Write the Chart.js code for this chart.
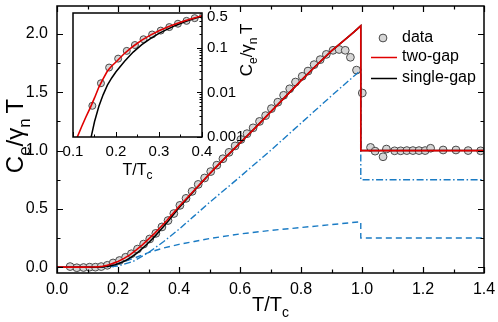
<!DOCTYPE html>
<html>
<head>
<meta charset="utf-8">
<script src="https://cdn.jsdelivr.net/npm/chart.js@4.4.1/dist/chart.umd.min.js"></script>
<style>
  html, body { margin: 0; padding: 0; background: #fff; }
  #wrap { position: relative; width: 498px; height: 322px; }
  #mainChart { position: absolute; left: 0; top: 0; }
  #insetChart { position: absolute; left: 60px; top: 0; }
</style>
</head>
<body>
<div id="wrap">
  <canvas id="mainChart" width="498" height="322"></canvas>
  <canvas id="insetChart" width="205" height="185"></canvas>
</div>
<script>
// measured specific heat, T/Tc vs Ce/(gamma_n T)
var dataT = [0.043, 0.065, 0.087, 0.107, 0.126, 0.145, 0.165, 0.184, 0.205, 0.225, 0.244, 0.264, 0.284, 0.304, 0.324, 0.344,
  0.364, 0.383, 0.403, 0.423, 0.443, 0.463, 0.484, 0.504, 0.524, 0.544, 0.564, 0.584, 0.603, 0.623, 0.643, 0.664,
  0.684, 0.703, 0.724, 0.743, 0.763, 0.782, 0.804, 0.823, 0.843, 0.863, 0.883, 0.905, 0.925, 0.945, 0.962, 0.982,
  1.001, 1.028, 1.043, 1.069, 1.08, 1.107, 1.127, 1.147, 1.167, 1.187, 1.207, 1.225, 1.266, 1.308, 1.348, 1.389];
var dataC = [0.005, -0.005, -0.003, 0, 0, 0.005, 0.016, 0.036, 0.057, 0.085, 0.115, 0.155, 0.198, 0.242, 0.29, 0.345,
  0.40, 0.46, 0.53, 0.59, 0.65, 0.71, 0.765, 0.82, 0.875, 0.93, 0.985, 1.04, 1.095, 1.145, 1.195, 1.25,
  1.30, 1.36, 1.415, 1.474, 1.53, 1.588, 1.637, 1.682, 1.737, 1.78, 1.825, 1.86, 1.867, 1.86, 1.80, 1.69,
  1.494, 1.027, 0.995, 0.947, 1.013, 0.998, 0.998, 1.0, 1.0, 1.0, 1.0, 1.02, 1.005, 1.005, 1.0, 0.998];

// two-gap fit
var twoGapT = [0, 0.10, 0.11, 0.12, 0.13, 0.14, 0.15, 0.16, 0.17, 0.18, 0.19, 0.20, 0.22, 0.24, 0.26, 0.28, 0.30, 0.32,
  0.34, 0.36, 0.38, 0.40, 0.45, 0.50, 0.55, 0.60, 0.65, 0.70, 0.75, 0.80, 0.85, 0.90, 0.95, 0.975, 0.996, 0.996, 1.4];
var twoGap = [0, 0.0006, 0.001, 0.0017, 0.0028, 0.0045, 0.0075, 0.013, 0.02, 0.03, 0.039, 0.048, 0.075, 0.108, 0.148, 0.192, 0.24, 0.29,
  0.345, 0.4, 0.46, 0.52, 0.66, 0.80, 0.935, 1.065, 1.195, 1.33, 1.465, 1.6, 1.73, 1.855, 1.965, 2.02, 2.07, 1.0, 1.0];

// single-gap fit
var singleT = [0, 0.13, 0.14, 0.15, 0.16, 0.17, 0.18, 0.19, 0.20, 0.22, 0.24, 0.26, 0.28, 0.30, 0.32, 0.34, 0.36,
  0.38, 0.40, 0.45, 0.50, 0.55, 0.60, 0.65, 0.70, 0.75, 0.80, 0.85, 0.90, 0.95, 0.975, 0.996, 0.996, 1.4];
var singleGap = [0, 0.0002, 0.0008, 0.0022, 0.0048, 0.0088, 0.0145, 0.021, 0.029, 0.05, 0.08, 0.117, 0.16, 0.21, 0.262, 0.32, 0.38,
  0.445, 0.51, 0.655, 0.80, 0.935, 1.065, 1.195, 1.33, 1.465, 1.6, 1.73, 1.855, 1.965, 2.02, 2.07, 1.0, 1.0];

// the two band contributions of the two-gap fit
var bandT = [0, 0.15, 0.20, 0.25, 0.30, 0.35, 0.40, 0.45, 0.50, 0.60, 0.70, 0.80, 0.90, 0.996, 0.996, 1.4];
var bandLarge = [0, 0, 0.01, 0.05, 0.125, 0.22, 0.325, 0.44, 0.555, 0.775, 1.0, 1.235, 1.47, 1.69, 0.75, 0.75];
var bandSmall = [0, 0.005, 0.03, 0.075, 0.125, 0.165, 0.195, 0.22, 0.245, 0.285, 0.315, 0.34, 0.365, 0.39, 0.25, 0.25];

var xTicks = [0, 0.2, 0.4, 0.6, 0.8, 1.0, 1.2, 1.4];
var yTicks = [0, 0.5, 1.0, 1.5, 2.0];
var insetXTicks = [0.1, 0.2, 0.3, 0.4];
var insetYTicks = [0.001, 0.01, 0.1, 0.5];

var FONT = '"Liberation Sans", Arial, sans-serif';
var RED = '#e00000', BLUE = '#1a7bc4', PT_FILL = '#d6d6d6', PT_EDGE = '#4a4a4a';

function pts(xs, ys, keep) {
  var out = [];
  for (var i = 0; i < xs.length; i++) {
    if (!keep || keep(xs[i], ys[i])) out.push({ x: xs[i], y: ys[i] });
  }
  return out;
}

// text with subscripts: parts = [[text, isSub], ...]
function subText(ctx, parts, x, y, size) {
  var small = Math.round(size * 0.72), w = 0;
  parts.forEach(function (p) { ctx.font = (p[1] ? small : size) + 'px ' + FONT; w += ctx.measureText(p[0]).width; });
  var cx = x - w / 2;
  parts.forEach(function (p) {
    ctx.font = (p[1] ? small : size) + 'px ' + FONT;
    ctx.fillText(p[0], cx, p[1] ? y + size * 0.28 : y);
    cx += ctx.measureText(p[0]).width;
  });
}

function tickMarks(chart, xs, ys, len, sides) {
  var a = chart.chartArea, ctx = chart.ctx, sx = chart.scales.x, sy = chart.scales.y;
  ctx.beginPath();
  xs.forEach(function (v) {
    var p = Math.round(sx.getPixelForValue(v)) + 0.5;
    if (sides.indexOf('b') >= 0) { ctx.moveTo(p, a.bottom); ctx.lineTo(p, a.bottom - len); }
    if (sides.indexOf('t') >= 0) { ctx.moveTo(p, a.top); ctx.lineTo(p, a.top + len); }
  });
  ys.forEach(function (v) {
    var p = Math.round(sy.getPixelForValue(v)) + 0.5;
    if (sides.indexOf('l') >= 0) { ctx.moveTo(a.left, p); ctx.lineTo(a.left + len, p); }
    if (sides.indexOf('r') >= 0) { ctx.moveTo(a.right, p); ctx.lineTo(a.right - len, p); }
  });
  ctx.stroke();
}

var yTitle = [['C', false], ['e', true], ['/', false], ['\u03b3', false], ['n', true], ['\u2009T', false]];
var xTitle = [['T/T', false], ['c', true]];

var mainDecor = {
  id: 'mainDecor',
  afterDraw: function (chart) {
    var ctx = chart.ctx, a = chart.chartArea;
    ctx.save();
    ctx.strokeStyle = '#000';
    ctx.lineWidth = 1.5;
    ctx.strokeRect(a.left, a.top, a.right - a.left, a.bottom - a.top);
    ctx.lineWidth = 1.2;
    tickMarks(chart, xTicks, yTicks, 6, 'btlr');
    tickMarks(chart, [0.1, 0.3, 0.5, 0.7, 0.9, 1.1, 1.3], [0.25, 0.75, 1.25, 1.75], 3.5, 'btlr');

    ctx.fillStyle = '#000';
    ctx.textBaseline = 'alphabetic';
    subText(ctx, xTitle, (a.left + a.right) / 2, 311, 20);
    ctx.save();
    ctx.translate(23, 136);
    ctx.rotate(-Math.PI / 2);
    subText(ctx, yTitle, 0, 0, 24);
    ctx.restore();

    // legend
    ctx.beginPath();
    ctx.arc(383, 38, 3.9, 0, Math.PI * 2);
    ctx.fillStyle = PT_FILL; ctx.fill();
    ctx.lineWidth = 1; ctx.strokeStyle = PT_EDGE; ctx.stroke();
    ctx.lineWidth = 1.5;
    ctx.strokeStyle = RED;
    ctx.beginPath(); ctx.moveTo(371, 57.5); ctx.lineTo(397, 57.5); ctx.stroke();
    ctx.strokeStyle = '#000';
    ctx.beginPath(); ctx.moveTo(371, 78.5); ctx.lineTo(397, 78.5); ctx.stroke();
    ctx.fillStyle = '#000';
    ctx.font = '16px ' + FONT;
    ctx.textBaseline = 'middle';
    ctx.fillText('data', 402, 38);
    ctx.fillText('two-gap', 402, 57);
    ctx.fillText('single-gap', 402, 78);
    ctx.restore();
  }
};

var insetDecor = {
  id: 'insetDecor',
  beforeDraw: function (chart) {
    var a = chart.chartArea;
    chart.ctx.save();
    chart.ctx.fillStyle = '#fff';
    chart.ctx.fillRect(a.left, a.top, a.right - a.left, a.bottom - a.top);
    chart.ctx.restore();
  },
  afterDraw: function (chart) {
    var ctx = chart.ctx, a = chart.chartArea;
    ctx.save();
    ctx.strokeStyle = '#000';
    ctx.lineWidth = 1.5;
    ctx.strokeRect(a.left, a.top, a.right - a.left, a.bottom - a.top);
    ctx.lineWidth = 1;
    tickMarks(chart, insetXTicks, [0.001, 0.01, 0.1], 5, 'br');
    tickMarks(chart, [0.15, 0.25, 0.35], [0.002, 0.003, 0.004, 0.005, 0.006, 0.007, 0.008, 0.009,
      0.02, 0.03, 0.04, 0.05, 0.06, 0.07, 0.08, 0.09, 0.2, 0.3, 0.4, 0.5], 2.5, 'br');
    ctx.fillStyle = '#000';
    ctx.textBaseline = 'alphabetic';
    subText(ctx, xTitle, (a.left + a.right) / 2, 175, 16);
    ctx.save();
    ctx.translate(192, 50);
    ctx.rotate(-Math.PI / 2);
    subText(ctx, yTitle, 0, 0, 17);
    ctx.restore();
    ctx.restore();
  }
};

function fixTicks(list) {
  return function (s) { s.ticks = list.map(function (v) { return { value: v }; }); };
}

var mainChart = new Chart(document.getElementById('mainChart'), {
  type: 'scatter',
  data: {
    datasets: [
      { label: 'two-gap', data: pts(twoGapT, twoGap), showLine: true, borderColor: RED, borderWidth: 1.6, pointRadius: 0, tension: 0 },
      { label: 'single-gap', data: pts(singleT, singleGap), showLine: true, borderColor: '#000', borderWidth: 1.5, pointRadius: 0, tension: 0 },
      { label: 'band 1', data: pts(bandT, bandLarge), showLine: true, borderColor: BLUE, borderWidth: 1.4, borderDash: [7, 2.5, 1.5, 2.5], pointRadius: 0, tension: 0 },
      { label: 'band 2', data: pts(bandT, bandSmall), showLine: true, borderColor: BLUE, borderWidth: 1.4, borderDash: [6, 4], pointRadius: 0, tension: 0 },
      { label: 'data', data: pts(dataT, dataC), pointRadius: 3.9, pointBackgroundColor: PT_FILL, pointBorderColor: PT_EDGE, pointBorderWidth: 1 }
    ]
  },
  options: {
    responsive: false,
    animation: false,
    events: [],
    layout: { padding: { left: 0, top: 6, right: 14, bottom: 0 } },
    plugins: { legend: { display: false }, tooltip: { enabled: false } },
    scales: {
      x: {
        type: 'linear', min: 0, max: 1.4,
        grid: { display: false, drawTicks: false }, border: { display: false },
        ticks: { color: '#000', font: { family: FONT, size: 16 }, padding: 7, callback: function (v) { return (+v).toFixed(1); } },
        afterBuildTicks: fixTicks(xTicks),
        afterFit: function (s) { s.height = 49; s.paddingLeft = 0; s.paddingRight = 0; }
      },
      y: {
        type: 'linear', min: -0.05, max: 2.24,
        grid: { display: false, drawTicks: false }, border: { display: false },
        ticks: { color: '#000', font: { family: FONT, size: 16 }, padding: 9, callback: function (v) { return (+v).toFixed(1); } },
        afterBuildTicks: fixTicks(yTicks),
        afterFit: function (s) { s.width = 57; s.paddingTop = 0; s.paddingBottom = 0; }
      }
    }
  },
  plugins: [mainDecor]
});

var inInset = function (x, y) { return x >= 0.09 && x <= 0.41 && y > 0; };

var insetChart = new Chart(document.getElementById('insetChart'), {
  type: 'scatter',
  data: {
    datasets: [
      { label: 'two-gap', data: pts(twoGapT, twoGap, inInset), showLine: true, borderColor: RED, borderWidth: 1.6, pointRadius: 0, tension: 0 },
      { label: 'single-gap', data: pts(singleT, singleGap, inInset), showLine: true, borderColor: '#000', borderWidth: 1.5, pointRadius: 0, tension: 0 },
      { label: 'data', data: pts(dataT, dataC, inInset), pointRadius: 3.5, pointBackgroundColor: PT_FILL, pointBorderColor: PT_EDGE, pointBorderWidth: 1 }
    ]
  },
  options: {
    responsive: false,
    animation: false,
    events: [],
    layout: { padding: { left: 13, top: 13, right: 0, bottom: 0 } },
    plugins: { legend: { display: false }, tooltip: { enabled: false } },
    scales: {
      x: {
        type: 'linear', min: 0.1, max: 0.4,
        grid: { display: false, drawTicks: false }, border: { display: false },
        ticks: { color: '#000', font: { family: FONT, size: 15 }, padding: 6, callback: function (v) { return (+v).toFixed(1); } },
        afterBuildTicks: fixTicks(insetXTicks),
        afterFit: function (s) { s.height = 48; s.paddingLeft = 0; s.paddingRight = 0; }
      },
      y: {
        type: 'logarithmic', position: 'right', min: 0.001, max: 0.6,
        grid: { display: false, drawTicks: false }, border: { display: false },
        ticks: { color: '#000', font: { family: FONT, size: 15 }, padding: 5, callback: function (v) { return String(v); } },
        afterBuildTicks: fixTicks(insetYTicks),
        afterFit: function (s) { s.width = 63; s.paddingTop = 0; s.paddingBottom = 0; }
      }
    }
  },
  plugins: [insetDecor]
});
</script>
</body>
</html>
